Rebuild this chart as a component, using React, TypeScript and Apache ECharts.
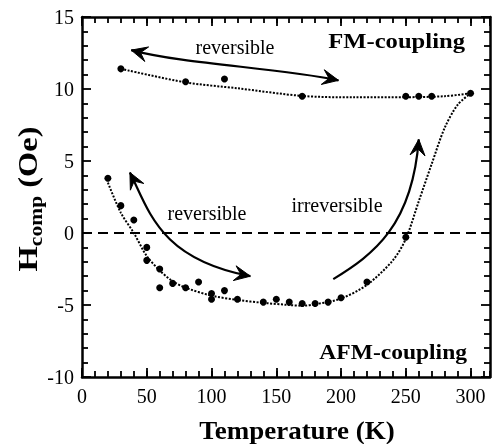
import React, { useEffect, useRef } from "react";
import * as echarts from "echarts";

// FM-coupling measurements
const fmTemp = [30, 80, 110, 170, 250, 260, 270, 300];
const fmHcomp = [11.4, 10.5, 10.7, 9.5, 9.5, 9.5, 9.5, 9.7];
// FM guide curve
const fmFitTemp = [30, 80, 120, 170, 210, 250, 280, 300];
const fmFitHcomp = [11.4, 10.46, 10.05, 9.52, 9.42, 9.43, 9.5, 9.7];

// AFM-coupling measurements
const afmTemp = [20, 30, 40, 50, 50, 60, 60, 70, 80, 90, 100, 100, 110, 120, 140, 150, 160, 170, 180, 190, 200, 220, 250];
const afmHcomp = [3.8, 1.9, 0.9, -1.0, -1.9, -2.5, -3.8, -3.5, -3.8, -3.4, -4.2, -4.6, -4.0, -4.6, -4.8, -4.6, -4.8, -4.9, -4.9, -4.8, -4.5, -3.4, -0.3];
// AFM guide curve
const afmFitTemp = [20, 30, 40, 50, 60, 70, 80, 100, 120, 140, 160, 170, 180, 200, 220, 240, 250, 260, 270, 280, 290, 300];
const afmFitHcomp = [3.5, 1.4, 0.0, -1.6, -2.6, -3.35, -3.8, -4.35, -4.65, -4.85, -5.0, -5.05, -4.95, -4.55, -3.6, -1.9, -0.4, 2.2, 4.8, 7.3, 8.9, 9.7];

// Annotation arrows (cubic curves in data space): start, control1, control2, end, double-headed
const arrowStart = [[38, 12.7], [37, 4.2], [194, -3.2]];
const arrowCtrl1 = [[80, 11.7], [52, 1.5], [225, -1.5]];
const arrowCtrl2 = [[150, 11.5], [60, -1.8], [255, 0.5]];
const arrowEnd = [[198, 10.6], [130, -3.0], [260, 6.5]];
const arrowDouble = [1, 1, 0];

const xRange = [0, 315];
const yRange = [-10, 15];

export default function App() {
  const ref = useRef<HTMLDivElement>(null);
  useEffect(() => {
    const chart = echarts.init(ref.current!, null, { renderer: "svg" });
    const serif = '"Liberation Serif", "Times New Roman", serif';
    const black = "#000";

    const xAxisDef = (position: string, interval: number, len: number, line: boolean, label: boolean) => ({
      type: "value",
      position,
      min: xRange[0],
      max: xRange[1],
      interval,
      axisLine: { show: line, onZero: false, lineStyle: { color: black, width: 2.5 } },
      axisTick: { show: true, inside: true, length: len, lineStyle: { color: black, width: 1.8 } },
      axisLabel: {
        show: label,
        showMaxLabel: false,
        fontFamily: serif,
        fontSize: 20,
        color: black,
        margin: 9,
      },
      splitLine: { show: false },
    });
    const yAxisDef = (position: string, label: boolean) => ({
      type: "value",
      position,
      min: yRange[0],
      max: yRange[1],
      interval: 5,
      axisLine: { show: true, onZero: false, lineStyle: { color: black, width: 2.5 } },
      axisTick: { show: true, inside: true, length: 9, lineStyle: { color: black, width: 1.8 } },
      minorTick: { show: true, splitNumber: 5, length: 6, lineStyle: { color: black, width: 1.8 } },
      axisLabel: { show: label, fontFamily: serif, fontSize: 20, color: black, margin: 8 },
      splitLine: { show: false },
    });

    const arrowData = arrowStart.map((s, i) => [
      s[0], s[1],
      arrowCtrl1[i][0], arrowCtrl1[i][1],
      arrowCtrl2[i][0], arrowCtrl2[i][1],
      arrowEnd[i][0], arrowEnd[i][1],
      arrowDouble[i],
    ]);

    const head = (tip: number[], from: number[]) => {
      let dx = tip[0] - from[0];
      let dy = tip[1] - from[1];
      const n = Math.hypot(dx, dy) || 1;
      dx /= n;
      dy /= n;
      const L = 16, W = 7.5, N = 0.6;
      const px = -dy, py = dx;
      return {
        type: "polygon",
        shape: {
          points: [
            [tip[0], tip[1]],
            [tip[0] - dx * L + px * W, tip[1] - dy * L + py * W],
            [tip[0] - dx * L * N, tip[1] - dy * L * N],
            [tip[0] - dx * L - px * W, tip[1] - dy * L - py * W],
          ],
        },
        style: { fill: black, stroke: black, lineWidth: 1 },
      };
    };

    const fitStyle = { color: black, width: 2, type: [2, 1.5], opacity: 1 };

    const option: any = {
      animation: false,
      grid: { left: 82, top: 17, width: 408, height: 360, containLabel: false },
      xAxis: [
        xAxisDef("bottom", 50, 9, true, true),
        xAxisDef("bottom", 10, 6, false, false),
        xAxisDef("top", 50, 9, true, false),
        xAxisDef("top", 10, 6, false, false),
      ],
      yAxis: [yAxisDef("left", true), yAxisDef("right", false)],
      series: [
        {
          type: "line",
          data: fmFitTemp.map((t, i) => [t, fmFitHcomp[i]]),
          smooth: 0.3,
          showSymbol: false,
          lineStyle: fitStyle,
          silent: true,
        },
        {
          type: "line",
          data: afmFitTemp.map((t, i) => [t, afmFitHcomp[i]]),
          smooth: 0.3,
          showSymbol: false,
          lineStyle: fitStyle,
          silent: true,
          markLine: {
            silent: true,
            symbol: "none",
            label: { show: false },
            lineStyle: { color: black, width: 1.8, type: [10, 6], opacity: 1 },
            data: [{ yAxis: 0 }],
          },
        },
        {
          type: "scatter",
          data: fmTemp.map((t, i) => [t, fmHcomp[i]]),
          symbolSize: 7,
          itemStyle: { color: black, opacity: 1 },
          z: 4,
        },
        {
          type: "scatter",
          data: afmTemp.map((t, i) => [t, afmHcomp[i]]),
          symbolSize: 7,
          itemStyle: { color: black, opacity: 1 },
          z: 4,
        },
        {
          type: "custom",
          silent: true,
          data: arrowData,
          z: 5,
          renderItem: (_params: any, api: any) => {
            const p0 = api.coord([api.value(0), api.value(1)]);
            const c1 = api.coord([api.value(2), api.value(3)]);
            const c2 = api.coord([api.value(4), api.value(5)]);
            const p3 = api.coord([api.value(6), api.value(7)]);
            const children: any[] = [
              {
                type: "bezierCurve",
                shape: {
                  x1: p0[0], y1: p0[1],
                  cpx1: c1[0], cpy1: c1[1],
                  cpx2: c2[0], cpy2: c2[1],
                  x2: p3[0], y2: p3[1],
                },
                style: { stroke: black, lineWidth: 2.2, fill: null },
              },
              head(p3, c2),
            ];
            if (api.value(8)) children.push(head(p0, c1));
            return { type: "group", children };
          },
        },
      ],
      graphic: [
        {
          type: "text", x: 235, y: 47,
          style: { text: "reversible", fontFamily: serif, fontSize: 20, fill: black, align: "center", verticalAlign: "middle" },
        },
        {
          type: "text", x: 207, y: 213,
          style: { text: "reversible", fontFamily: serif, fontSize: 20, fill: black, align: "center", verticalAlign: "middle" },
        },
        {
          type: "text", x: 337, y: 205,
          style: { text: "irreversible", fontFamily: serif, fontSize: 20, fill: black, align: "center", verticalAlign: "middle" },
        },
        {
          type: "text", x: 465, y: 40, scaleX: 1.12,
          style: { text: "FM-coupling", fontFamily: serif, fontSize: 22, fontWeight: "bold", fill: black, align: "right", verticalAlign: "middle" },
        },
        {
          type: "text", x: 467, y: 352, scaleX: 1.07,
          style: { text: "AFM-coupling", fontFamily: serif, fontSize: 22, fontWeight: "bold", fill: black, align: "right", verticalAlign: "middle" },
        },
        {
          type: "text", x: 297, y: 431, scaleX: 1.08,
          style: { text: "Temperature (K)", fontFamily: serif, fontSize: 25, fontWeight: "bold", fill: black, align: "center", verticalAlign: "middle" },
        },
        {
          type: "text", x: 27, y: 199, rotation: Math.PI / 2, scaleX: 1.2,
          style: {
            text: "{h|H}{s|comp}{h| (Oe)}",
            align: "center",
            verticalAlign: "middle",
            rich: {
              h: { fontFamily: serif, fontSize: 27, fontWeight: "bold", fill: black, verticalAlign: "bottom" },
              s: { fontFamily: serif, fontSize: 18, fontWeight: "bold", fill: black, verticalAlign: "bottom", padding: [0, 0, -4, 0] },
            },
          },
        },
      ],
    };
    chart.setOption(option);
    return () => chart.dispose();
  }, []);
  return <div ref={ref} style={{ position: "fixed", left: 0, top: 0, width: 494, height: 444 }} />;
}
